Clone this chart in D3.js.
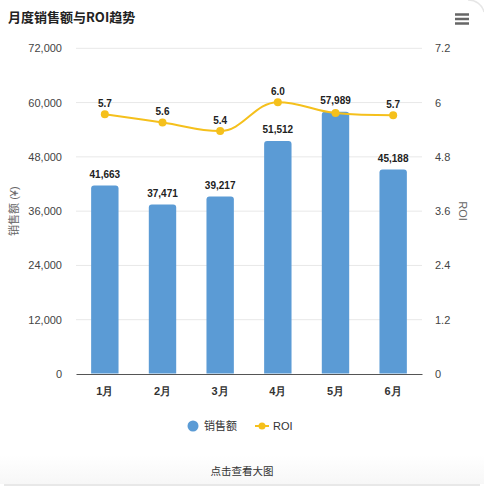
<!DOCTYPE html>
<html><head><meta charset="utf-8">
<script src="https://cdn.jsdelivr.net/npm/d3@7/dist/d3.min.js"></script>
<style>
html,body{margin:0;padding:0;background:#fff;}
svg{display:block;font-family:"Liberation Sans","Noto Sans CJK SC",Arial,sans-serif;}
</style></head>
<body><svg id="c" width="484" height="488"></svg>
<script>
const months = ["1月","2月","3月","4月","5月","6月"];
const sales = [41663, 37471, 39217, 51512, 57989, 45188];
const roi = [5.74, 5.56, 5.37, 6.01, 5.77, 5.72];
const salesTicks = [0, 12000, 24000, 36000, 48000, 60000, 72000];
const roiTicks = [0, 1.2, 2.4, 3.6, 4.8, 6, 7.2];

const W = 484, H = 488;
const M = {l: 76, r: 422, t: 48.3, b: 374};
const barColor = "#5b9bd5", lineColor = "#f5c01c";

const svg = d3.select("#c");

// card background with faint bottom shading
const defs = svg.append("defs");
const g1 = defs.append("linearGradient").attr("id","bot").attr("x1",0).attr("y1",0).attr("x2",0).attr("y2",1);
g1.append("stop").attr("offset","0").attr("stop-color","#ffffff");
g1.append("stop").attr("offset","1").attr("stop-color","#f7f7f7");
svg.append("rect").attr("x",0).attr("y",0).attr("width",W).attr("height",H).attr("fill","#fff");
svg.append("rect").attr("x",0).attr("y",455).attr("width",W).attr("height",29).attr("fill","url(#bot)");
svg.append("line").attr("x1",4).attr("x2",W-4).attr("y1",485).attr("y2",485).attr("stroke","#e0e0e0").attr("stroke-width",1.5);
svg.append("path").attr("d",`M${W-16},0 A16,16 0 0 1 ${W},12`).attr("fill","none").attr("stroke","#e6e6e6").attr("stroke-width",1.5);

const x = d3.scaleBand().domain(months).range([M.l, M.r]).paddingInner(0).paddingOuter(0);
const yL = d3.scaleLinear().domain([0, 72000]).range([M.b, M.t]);
const yR = d3.scaleLinear().domain([0, 7.2]).range([M.b, M.t]);
const fmtL = d3.format(",");
const fmtR = d3.format("~");

// grid
svg.append("g").selectAll("line").data(salesTicks.filter(d=>d>0)).join("line")
  .attr("x1",M.l).attr("x2",M.r).attr("y1",d=>yL(d)).attr("y2",d=>yL(d))
  .attr("stroke","#e8e8e8").attr("stroke-width",1);

// left axis
const axL = d3.axisLeft(yL).tickValues(salesTicks).tickFormat(fmtL).tickSize(0).tickPadding(0);
const gL = svg.append("g").attr("transform",`translate(${M.l-14},0)`).call(axL);
gL.select(".domain").remove();
gL.selectAll("text").attr("font-size",11).attr("fill","#444").attr("font-family","Liberation Sans, Arial, sans-serif");

// right axis
const axR = d3.axisRight(yR).tickValues(roiTicks).tickFormat(fmtR).tickSize(0).tickPadding(0);
const gR = svg.append("g").attr("transform",`translate(${M.r+13},0)`).call(axR);
gR.select(".domain").remove();
gR.selectAll("text").attr("font-size",11).attr("fill","#444").attr("font-family","Liberation Sans, Arial, sans-serif");

// bottom axis
const axB = d3.axisBottom(x).tickSize(0).tickPadding(0);
const gB = svg.append("g").attr("transform",`translate(0,${M.b})`).call(axB);
gB.select(".domain").attr("stroke","#555").attr("stroke-width",1);
gB.selectAll("text").attr("font-size",11).attr("fill","#333").attr("font-weight","bold").attr("dy","1.9em").attr("y",0);

// axis titles
svg.append("text").attr("transform",`translate(18,${(M.t+M.b)/2}) rotate(-90)`).attr("text-anchor","middle")
  .attr("font-size",11).attr("fill","#666").text("销售额 (¥)");
svg.append("text").attr("transform",`translate(459,${(M.t+M.b)/2}) rotate(90)`).attr("text-anchor","middle")
  .attr("font-size",11).attr("fill","#666").text("ROI");

// bars
const bw = x.bandwidth()*0.475, rad = 3;
function barPath(cx, top, bot){
  const l = cx-bw/2, r = cx+bw/2;
  return `M${l},${bot}V${top+rad}Q${l},${top} ${l+rad},${top}H${r-rad}Q${r},${top} ${r},${top+rad}V${bot}Z`;
}
svg.append("g").selectAll("path").data(sales).join("path")
  .attr("d",(d,i)=>barPath(x(months[i])+x.bandwidth()/2, yL(d), M.b-0.5))
  .attr("fill",barColor);

// spline (Highcharts-like)
const pts = roi.map((v,i)=>[x(months[i])+x.bandwidth()/2, yR(v)]);
function ctrl(i){
  const sm = 1.5, den = sm+1;
  const [px,py] = pts[i], [lx,ly] = pts[i-1], [nx,ny] = pts[i+1];
  let lcx=(sm*px+lx)/den, lcy=(sm*py+ly)/den, rcx=(sm*px+nx)/den, rcy=(sm*py+ny)/den;
  const corr = ((rcy-lcy)*(rcx-px))/(rcx-lcx)+py-rcy;
  lcy+=corr; rcy+=corr;
  if(lcy>ly && lcy>py){lcy=Math.max(ly,py); rcy=2*py-lcy;}
  else if(lcy<ly && lcy<py){lcy=Math.min(ly,py); rcy=2*py-lcy;}
  if(rcy>ny && rcy>py){rcy=Math.max(ny,py); lcy=2*py-rcy;}
  else if(rcy<ny && rcy<py){rcy=Math.min(ny,py); lcy=2*py-rcy;}
  return {l:[lcx,lcy], r:[rcx,rcy]};
}
const cs = pts.map((p,i)=> (i===0||i===pts.length-1)?{l:p,r:p}:ctrl(i));
let d = `M${pts[0][0]},${pts[0][1]}`;
for(let i=1;i<pts.length;i++){
  d += `C${cs[i-1].r[0]},${cs[i-1].r[1]} ${cs[i].l[0]},${cs[i].l[1]} ${pts[i][0]},${pts[i][1]}`;
}
svg.append("path").attr("d",d).attr("fill","none").attr("stroke",lineColor).attr("stroke-width",2);
svg.append("g").selectAll("circle").data(pts).join("circle")
  .attr("cx",p=>p[0]).attr("cy",p=>p[1]).attr("r",4).attr("fill",lineColor);

// data labels
const barLabels = sales.map((v,i)=>({x:x(months[i])+x.bandwidth()/2, y:yL(v)-7.5, t:fmtL(v)}));
const roiLabels = roi.map((v,i)=>({x:pts[i][0], y:pts[i][1]-7.5, t:d3.format(".1f")(v)}));
const lab = svg.append("g").attr("font-size",10).attr("font-weight","bold").attr("fill","#222").attr("text-anchor","middle");
const boxes = [];
barLabels.forEach(b=>{
  const n = lab.append("text").attr("x",b.x).attr("y",b.y).text(b.t);
  boxes.push(n.node().getBBox());
});
roiLabels.forEach(b=>{
  const n = lab.append("text").attr("x",b.x).attr("y",b.y).text(b.t);
  const bb = n.node().getBBox();
  const hit = boxes.some(o=> bb.x < o.x+o.width && o.x < bb.x+bb.width && bb.y < o.y+o.height && o.y < bb.y+bb.height);
  if(hit) n.remove();
});

// title
svg.append("text").attr("x",8).attr("y",22).attr("font-size",13).attr("font-weight","bold").attr("fill","#222")
  .attr("font-family","Noto Sans CJK SC, sans-serif").text("月度销售额与ROI趋势");

// menu icon
svg.append("g").selectAll("line").data([14.5,19,23.5]).join("line")
  .attr("x1",455).attr("x2",469).attr("y1",d=>d).attr("y2",d=>d).attr("stroke","#666").attr("stroke-width",2.5);

// legend
const lg = svg.append("g");
lg.append("circle").attr("cx",193).attr("cy",426).attr("r",5.5).attr("fill",barColor);
lg.append("text").attr("x",204).attr("y",430).attr("font-size",11).attr("fill","#333").text("销售额");
lg.append("line").attr("x1",255).attr("x2",269).attr("y1",426).attr("y2",426).attr("stroke",lineColor).attr("stroke-width",2);
lg.append("circle").attr("cx",262).attr("cy",426).attr("r",3.5).attr("fill",lineColor);
lg.append("text").attr("x",273).attr("y",430).attr("font-size",11).attr("fill","#333").text("ROI");

svg.append("text").attr("x",242).attr("y",475).attr("text-anchor","middle").attr("font-size",10.5).attr("fill","#333").text("点击查看大图");
</script></body></html>
